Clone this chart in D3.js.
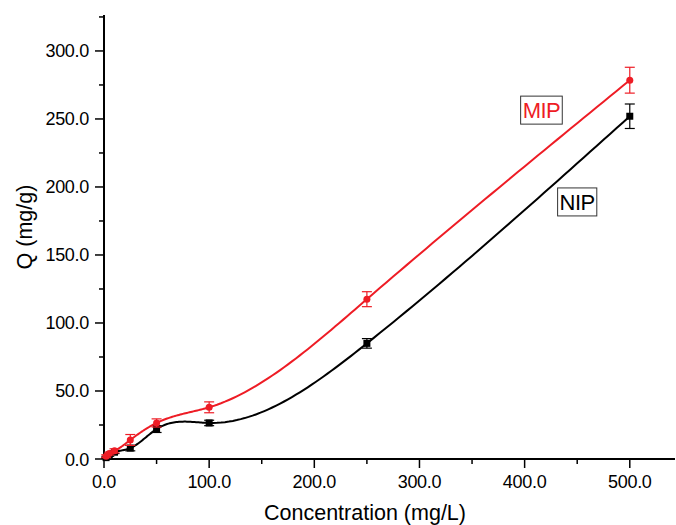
<!DOCTYPE html>
<html lang="en">
<head>
<meta charset="UTF-8">
<title>Q vs Concentration</title>
<style>
  body { margin: 0; background: #fff; }
  text { font-family: "Liberation Sans", Arial, sans-serif; }
</style>
</head>
<body>
<svg id="svg" width="676" height="525"></svg>
<script src="https://d3js.org/d3.v7.min.js"></script>
<script>
// data
const conc = [2, 5, 10, 25, 50, 100, 250, 500]
const mipQ = [2, 4, 6, 14, 26.5, 38, 117.5, 278.5]
const mipErr = [1, 1, 1.5, 4, 3, 4, 5.5, 9.5]
const nipQ = [1, 3, 5, 8, 22, 26.5, 85, 252]
const nipErr = [0.5, 1, 1, 2, 2.5, 2, 3.5, 9]
const xTicks = [0, 100, 200, 300, 400, 500]
const yTicks = [0, 50, 100, 150, 200, 250, 300]

const svg = d3.select('#svg')

const xScale = d3.scaleLinear().domain([0, 543]).range([104, 675])
const yScale = d3.scaleLinear().domain([0, 325.7]).range([459, 16])

// natural cubic spline y(x), like the Origin spline connector
function spline(xs, ys) {
    const n = xs.length
    const h = [], alpha = [0]
    for (let i = 0; i < n - 1; i++) h.push(xs[i + 1] - xs[i])
    for (let i = 1; i < n - 1; i++)
        alpha.push(3 / h[i] * (ys[i + 1] - ys[i]) - 3 / h[i - 1] * (ys[i] - ys[i - 1]))
    const l = [1], mu = [0], z = [0]
    for (let i = 1; i < n - 1; i++) {
        l[i] = 2 * (xs[i + 1] - xs[i - 1]) - h[i - 1] * mu[i - 1]
        mu[i] = h[i] / l[i]
        z[i] = (alpha[i] - h[i - 1] * z[i - 1]) / l[i]
    }
    const c = new Array(n).fill(0), b = [], d = []
    for (let j = n - 2; j >= 0; j--) {
        c[j] = (j === 0 ? 0 : z[j] - mu[j] * c[j + 1])
        b[j] = (ys[j + 1] - ys[j]) / h[j] - h[j] * (c[j + 1] + 2 * c[j]) / 3
        d[j] = (c[j + 1] - c[j]) / (3 * h[j])
    }
    const pts = []
    for (let j = 0; j < n - 1; j++) {
        const steps = 40
        for (let k = 0; k < steps; k++) {
            const t = h[j] * k / steps
            pts.push([xs[j] + t, ys[j] + b[j] * t + c[j] * t * t + d[j] * t * t * t])
        }
    }
    pts.push([xs[n - 1], ys[n - 1]])
    return pts
}

const line = d3.line().x(d => xScale(d[0])).y(d => yScale(d[1]))

// axes
const xAxis = svg.append('g').attr('transform', 'translate(0,459)')
xAxis.append('line').attr('x1', 103).attr('x2', 675).attr('stroke', '#000').attr('stroke-width', 2)
xAxis.selectAll('.minor').data(d3.range(50, 543, 100)).enter().append('line')
    .attr('x1', d => xScale(d)).attr('x2', d => xScale(d)).attr('y1', 0).attr('y2', 5)
    .attr('stroke', '#000').attr('stroke-width', 1.5)
xAxis.selectAll('.major').data(xTicks).enter().append('line')
    .attr('x1', d => xScale(d)).attr('x2', d => xScale(d)).attr('y1', 0).attr('y2', 9)
    .attr('stroke', '#000').attr('stroke-width', 1.5)
xAxis.selectAll('text').data(xTicks).enter().append('text')
    .attr('x', d => xScale(d)).attr('y', 29)
    .attr('text-anchor', 'middle').attr('font-size', 18).attr('letter-spacing', -0.3)
    .text(d => d.toFixed(1))

const yAxis = svg.append('g').attr('transform', 'translate(104,0)')
yAxis.append('line').attr('y1', 15).attr('y2', 460).attr('stroke', '#000').attr('stroke-width', 2)
yAxis.selectAll('.minor').data(d3.range(25, 326, 50)).enter().append('line')
    .attr('y1', d => yScale(d)).attr('y2', d => yScale(d)).attr('x1', 0).attr('x2', -5)
    .attr('stroke', '#000').attr('stroke-width', 1.5)
yAxis.selectAll('.major').data(yTicks).enter().append('line')
    .attr('y1', d => yScale(d)).attr('y2', d => yScale(d)).attr('x1', 0).attr('x2', -9)
    .attr('stroke', '#000').attr('stroke-width', 1.5)
yAxis.selectAll('text').data(yTicks).enter().append('text')
    .attr('x', -15).attr('y', d => yScale(d) + 6.5)
    .attr('text-anchor', 'end').attr('font-size', 18).attr('letter-spacing', -0.3)
    .text(d => d.toFixed(1))

svg.append('text').attr('x', 365).attr('y', 520).attr('text-anchor', 'middle')
    .attr('font-size', 21.5).text('Concentration (mg/L)')
svg.append('text').attr('transform', 'translate(32,227) rotate(-90)').attr('text-anchor', 'middle')
    .attr('font-size', 21.5).text('Q (mg/g)')

// series
const series = [
    { name: 'NIP', q: nipQ, err: nipErr, color: '#000', errColor: '#000', shape: 'square', lx: 450, ly: 189 },
    { name: 'MIP', q: mipQ, err: mipErr, color: '#ee1c25', errColor: '#ee1c25', shape: 'circle', lx: 416, ly: 256.5 }
]

series.forEach(s => {
    const g = svg.append('g')
    g.append('path').attr('d', line(spline(conc, s.q)))
        .attr('fill', 'none').attr('stroke', s.color).attr('stroke-width', 2)

    const eb = g.selectAll('.eb').data(conc).enter().append('g')
    eb.append('line')
        .attr('x1', d => xScale(d)).attr('x2', d => xScale(d))
        .attr('y1', (d, i) => yScale(s.q[i] - s.err[i])).attr('y2', (d, i) => yScale(s.q[i] + s.err[i]))
        .attr('stroke', s.errColor).attr('stroke-width', 1.2)
    ;[-1, 1].forEach(sign => {
        eb.append('line')
            .attr('x1', d => xScale(d) - 5).attr('x2', d => xScale(d) + 5)
            .attr('y1', (d, i) => yScale(s.q[i] + sign * s.err[i]))
            .attr('y2', (d, i) => yScale(s.q[i] + sign * s.err[i]))
            .attr('stroke', s.errColor).attr('stroke-width', 1.2)
    })

    if (s.shape === 'circle') {
        g.selectAll('circle').data(conc).enter().append('circle')
            .attr('cx', d => xScale(d)).attr('cy', (d, i) => yScale(s.q[i]))
            .attr('r', 3.5).attr('fill', s.color)
    } else {
        g.selectAll('rect').data(conc).enter().append('rect')
            .attr('x', d => xScale(d) - 3.5).attr('y', (d, i) => yScale(s.q[i]) - 3.5)
            .attr('width', 7).attr('height', 7).attr('fill', s.color)
    }

    // boxed label
    const lab = svg.append('g')
    const t = lab.append('text').attr('x', xScale(s.lx)).attr('y', yScale(s.ly) + 8)
        .attr('text-anchor', 'middle').attr('font-size', 22).attr('letter-spacing', -0.5)
        .attr('fill', s.color).text(s.name)
    const bb = t.node().getBBox()
    lab.insert('rect', 'text').attr('x', bb.x - 2).attr('y', yScale(s.ly) - 14)
        .attr('width', bb.width + 4).attr('height', 28)
        .attr('fill', '#fff').attr('stroke', '#333').attr('stroke-width', 1)
})
</script>
</body>
</html>
